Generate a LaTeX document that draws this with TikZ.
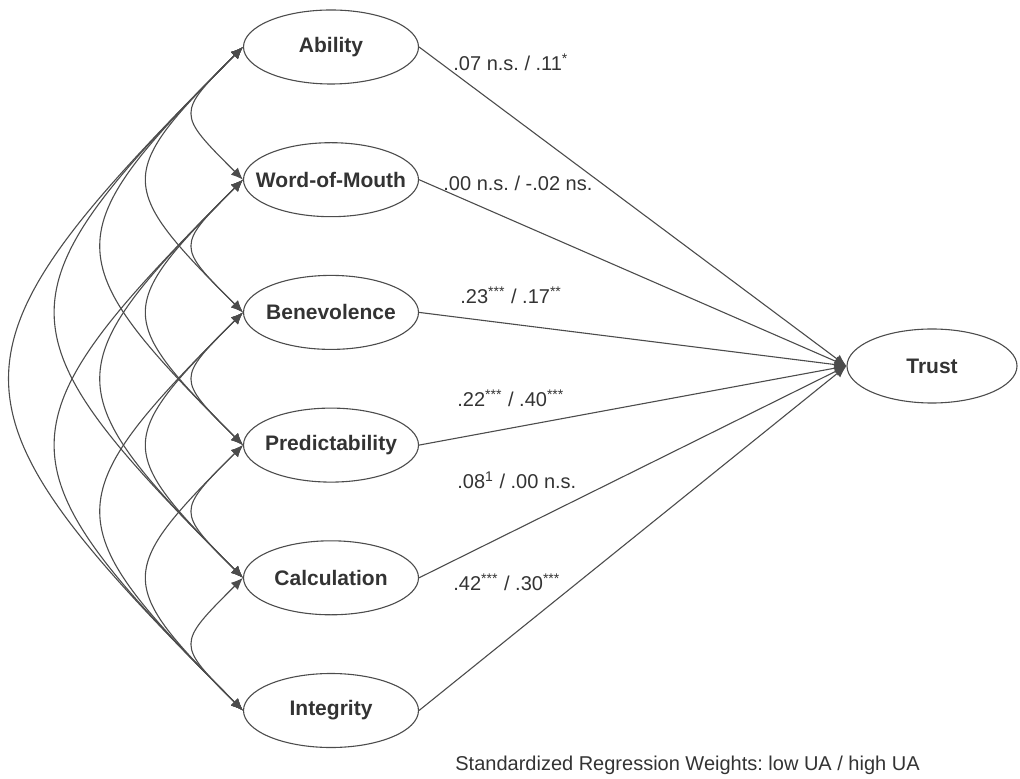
\documentclass[tikz,border=0pt]{standalone}
\usepackage{fontspec}
\setmainfont{Liberation Sans}
\usetikzlibrary{positioning, shapes.geometric, arrows.meta}
\frenchspacing

\begin{document}
\begin{tikzpicture}[
    x=0.5pt, y=-0.5pt,
    construct/.style=
    {draw=black!70, ellipse, line width=.55pt, inner xsep=-10pt, inner ysep=0pt,
     minimum width=87.5pt, minimum height=37pt,
     font=\fontsize{10.5}{12}\selectfont\bfseries, text=black!80},
    weight/.style=
    {anchor=west, inner sep=0pt, font=\fontsize{10}{12}\selectfont, text=black!80},
    link/.style={draw=black!70, line width=.55pt},
    >={Latex[length=6pt, width=5pt]},
    node distance = 28.8pt]
    \useasboundingbox (0,0) rectangle (1020,779);
    \node (p1) [construct] at (331,47) {Ability};
    \node (p2) [construct, below= of p1] {Word-of-Mouth};
    \node (p3) [construct, below= of p2] {Benevolence};
    \node (p4) [construct, below= of p3] {Predictability};
    \node (p5) [construct, below= of p4] {Calculation};
    \node (p6) [construct, below= of p5] {Integrity};
    \node (trust) [construct, minimum width=85pt] at (932,366) {Trust};
    % regression weights
    \node (w1) [weight] at (453,62) {.07 n.s. / .11\textsuperscript{*}};
    \node (w2) [weight] at (443,183) {.00 n.s. / -.02 ns.};
    \node (w3) [weight] at (460,295) {.23\textsuperscript{***} / .17\textsuperscript{**}};
    \node (w4) [weight] at (457,398) {.22\textsuperscript{***} / .40\textsuperscript{***}};
    \node (w5) [weight] at (457,480) {.08\textsuperscript{1} / .00 n.s.};
    \node (w6) [weight] at (453,582) {.42\textsuperscript{***} / .30\textsuperscript{***}};
    \node (legend) [weight] at (455,765) {Standardized Regression Weights: low UA / high UA};
    \foreach \n in {1,...,6}
        \path (p\n.east) edge[link, ->] (trust.west);
    % correlations between the predictors
    \foreach \n [evaluate=\n as \s using int(\n+1)] in {1,...,5}
        \foreach \m in {\s,...,6} {
            \pgfmathsetmacro\h{(50+45.6*(\m-\n-1))/0.75}
            \draw[link, <->] (p\n.west) .. controls +(-\h,\h) and +(-\h,-\h) .. (p\m.west);
        }
\end{tikzpicture}
\end{document}
